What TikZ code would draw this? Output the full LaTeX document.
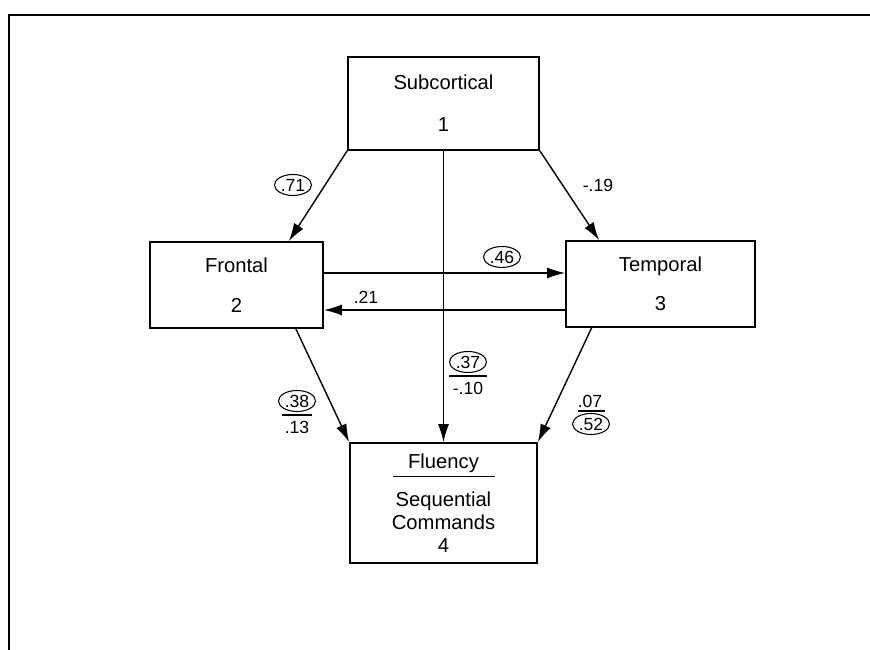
\documentclass[tikz,border=0pt]{standalone}
\usepackage{fontspec}
\setmainfont{Liberation Sans}
\usetikzlibrary{arrows.meta,shapes.geometric}
\tikzset{
	region/.style={draw, line width=1pt, align=center, inner sep=2pt, font=\fontsize{11.5}{13}\selectfont},
	link/.style={line width=0.8pt, -{Latex[length=3.6mm,width=2.2mm]}},
	coef/.style={font=\fontsize{10}{12}\selectfont, inner sep=1pt},
	ringed/.style={coef, ellipse, draw, line width=0.6pt, inner sep=0pt, minimum width=0.74cm, minimum height=0.42cm},
	bar/.style={line width=0.7pt}
}

\begin{document}
\begin{tikzpicture}
			%%%%% START %%%%%
			\useasboundingbox (0, 0) rectangle (17.4, 13);
			
			\draw[line width=1pt] (0.18, 0) -- (0.18, 12.7) -- (17.4, 12.7);
			
			\node[region, minimum width=3.82cm, minimum height=1.86cm] (subcortical) at (8.87, 10.93) {Subcortical\\[11pt]1};
			\node[region, minimum width=3.46cm, minimum height=1.72cm] (frontal) at (4.73, 7.3) {Frontal\\[10pt]2};
			\node[region, minimum width=3.78cm, minimum height=1.72cm] (temporal) at (13.21, 7.32) {Temporal\\[9pt]3};
			\node[region, minimum width=3.74cm, minimum height=2.4cm] (fluency) at (8.87, 2.94) {Fluency\\[-8pt]\rule{2.04cm}{0.8pt}\\[4pt]Sequential\\Commands\\4};
			
			\draw[link] (subcortical.south west) -- ([xshift=-0.7cm]frontal.north east);
			\draw[link] (subcortical.south east) -- ([xshift=0.68cm]temporal.north west);
			\draw[link] (subcortical) -- (fluency);
			\draw[link] ([yshift=0.24cm]frontal.east) -- ([yshift=0.24cm]frontal.east -| temporal.west);
			\draw[link] ([yshift=-0.52cm]temporal.west) -- ([yshift=-0.52cm]temporal.west -| frontal.east);
			\draw[link] ([xshift=-0.56cm]frontal.south east) -- (fluency.north west);
			\draw[link] ([xshift=0.53cm]temporal.south west) -- (fluency.north east);
			
			% path coefficients
			\node[ringed] (c71) at (5.86, 9.3) {.71};
			\node[coef] (c19) at (11.96, 9.3) {-.19};
			\node[ringed] (c46) at (10.04, 7.86) {.46};
			\node[coef] (c21) at (7.32, 7.06) {.21};
			
			\node[ringed] (c37) at (9.36, 5.76) {.37};
			\draw[bar] (8.98, 5.48) -- (9.74, 5.48);
			\node[coef] (c10) at (9.36, 5.24) {-.10};
			
			\node[ringed] (c38) at (5.94, 4.98) {.38};
			\draw[bar] (5.64, 4.7) -- (6.24, 4.7);
			\node[coef] (c13) at (5.94, 4.46) {.13};
			
			\node[coef] (c07) at (11.8, 4.98) {.07};
			\draw[bar] (11.56, 4.78) -- (12.1, 4.78);
			\node[ringed] (c52) at (11.82, 4.52) {.52};
			%%%%% END %%%%%
\end{tikzpicture}
\end{document}
